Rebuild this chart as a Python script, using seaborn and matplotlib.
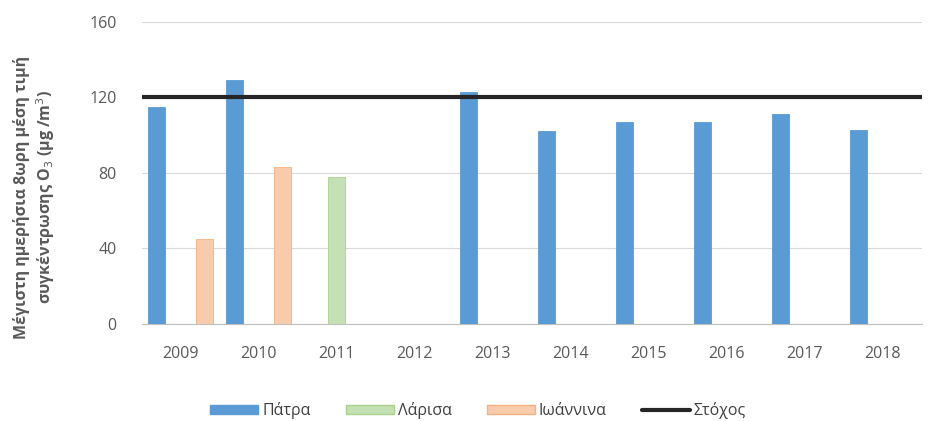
import numpy as np
import pandas as pd
import matplotlib
matplotlib.use("Agg")
import matplotlib.pyplot as plt
import seaborn as sns
from matplotlib.lines import Line2D
from matplotlib.patches import Patch

years = ["2009", "2010", "2011", "2012", "2013", "2014", "2015", "2016", "2017", "2018"]
patra = [115, 129, np.nan, np.nan, 123, 102, 107, 107, 111, 103]
larisa = [np.nan, np.nan, 78, np.nan, np.nan, np.nan, np.nan, np.nan, np.nan, np.nan]
ioannina = [45, 83, np.nan, np.nan, np.nan, np.nan, np.nan, np.nan, np.nan, np.nan]
series_names = ["Πάτρα", "Λάρισα", "Ιωάννινα"]
target_value = 120
target_name = "Στόχος"

colors = {"Πάτρα": "#5B9BD5", "Λάρισα": "#C5E0B4", "Ιωάννινα": "#F8CBAD"}
edges = {"Πάτρα": "#5B9BD5", "Λάρισα": "#A9D18E", "Ιωάννινα": "#F4B183"}

rows = []
for name, vals in zip(series_names, [patra, larisa, ioannina]):
    for y, v in zip(years, vals):
        rows.append({"year": y, "city": name, "value": v})
df = pd.DataFrame(rows).dropna()

sns.set_style("white")
plt.rcParams["font.family"] = ["Open Sans", "DejaVu Sans"]

fig = plt.figure(figsize=(9.32, 4.21), dpi=100)
ax = fig.add_axes([0.152, 0.2304, 0.837, 0.7176])

sns.barplot(data=df, x="year", y="value", hue="city", order=years,
            hue_order=series_names, palette=colors, width=0.92, gap=0.3,
            saturation=1, errorbar=None, ax=ax, legend=False, zorder=2)
for container, name in zip(ax.containers, series_names):
    for bar in container:
        bar.set_edgecolor(edges[name])
        bar.set_linewidth(0.6)

ax.axhline(target_value, color="#262626", linewidth=3, zorder=3)

ax.set_ylim(0, 160)
ax.set_yticks([0, 40, 80, 120, 160])
ax.set_xlim(-0.5, len(years) - 0.5)
ax.yaxis.grid(True, color="#D9D9D9", linewidth=0.8, zorder=0)
ax.set_axisbelow(True)
for s in ["top", "right", "left"]:
    ax.spines[s].set_visible(False)
ax.spines["bottom"].set_color("#BFBFBF")
ax.spines["bottom"].set_zorder(1)

ax.tick_params(axis="y", length=0, labelsize=11.5, colors="#595959", pad=18)
ax.tick_params(axis="x", length=0, labelsize=11.5, colors="#595959", pad=16)
# category separators
ax.set_xticks(np.arange(-0.5, len(years), 1.0), minor=True)
ax.tick_params(axis="x", which="minor", length=7, color="#BFBFBF", direction="inout")

ax.set_xlabel("")
ax.set_ylabel("Μέγιστη ημερήσια 8ωρη μέση τιμή\nσυγκέντρωσης O$_3$ (μg /m$^3$)",
              fontsize=11.5, fontweight="bold", color="#595959",
              linespacing=1.25)
ax.yaxis.set_label_coords(-0.109, 0.42)

handles = [Patch(facecolor=colors[n], edgecolor=edges[n]) for n in series_names]
handles.append(Line2D([0], [0], color="#262626", linewidth=3))
labels = series_names + [target_name]
fig.legend(handles, labels, loc="center", bbox_to_anchor=(0.513, 0.025), ncol=4,
           frameon=False, fontsize=11.5, handlelength=3.0, handleheight=0.55,
           columnspacing=2.2, handletextpad=0.25, labelcolor="#404040")

fig.savefig("out.png", dpi=100)
